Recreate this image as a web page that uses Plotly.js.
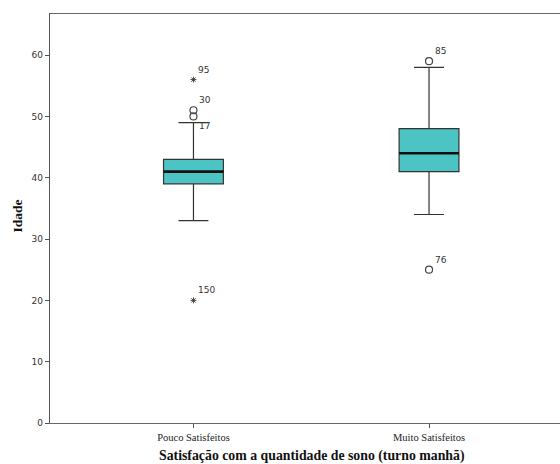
<!DOCTYPE html>
<html>
<head>
<meta charset="utf-8">
<script src="https://cdn.plot.ly/plotly-3.0.1.min.js"></script>
<style>
  html, body { margin: 0; padding: 0; background: #fff; overflow: hidden; }
  #chart { width: 560px; height: 464px; }
</style>
</head>
<body>
<div id="chart"></div>
<script>
// Age (Idade) by satisfaction with amount of sleep, morning shift
const categories = ['Pouco Satisfeitos', 'Muito Satisfeitos'];
const q1 = [39, 41];
const median = [41, 44];
const q3 = [43, 48];
const lowerWhisker = [33, 34];
const upperWhisker = [49, 58];

// Outliers (circles) and extreme values (stars), with case ids
const outlierGroup = [0, 0, 1, 1];
const outlierValue = [51, 50, 59, 25];
const outlierCase = ['30', '17', '85', '76'];

const extremeGroup = [0, 0];
const extremeValue = [56, 20];
const extremeCase = ['95', '150'];

const yTicks = [0, 10, 20, 30, 40, 50, 60];

const boxWidth = 0.254;
const boxColor = '#4cc4c4';
const lineColor = '#333333';

const xs = categories.map((_, i) => i);

const traces = [];

traces.push({
  type: 'box',
  x: xs,
  q1: q1,
  median: median,
  q3: q3,
  lowerfence: lowerWhisker,
  upperfence: upperWhisker,
  width: boxWidth,
  whiskerwidth: 0.5,
  fillcolor: boxColor,
  line: { color: lineColor, width: 1.2 },
  boxpoints: false,
  hoverinfo: 'skip',
  showlegend: false
});

// heavy median bars
median.forEach((m, i) => {
  traces.push({
    type: 'scatter',
    mode: 'lines',
    x: [i - boxWidth / 2, i + boxWidth / 2],
    y: [m, m],
    line: { color: '#111', width: 2.6 },
    hoverinfo: 'skip',
    showlegend: false
  });
});

traces.push({
  type: 'scatter',
  mode: 'markers',
  x: outlierGroup,
  y: outlierValue,
  marker: { symbol: 'circle-open', size: 7, color: '#444', line: { width: 1.2, color: '#444' } },
  hoverinfo: 'skip',
  showlegend: false
});

traces.push({
  type: 'scatter',
  mode: 'markers',
  x: extremeGroup,
  y: extremeValue,
  marker: { symbol: 'asterisk-open', size: 5, color: '#333', line: { width: 0.9, color: '#333' } },
  hoverinfo: 'skip',
  showlegend: false
});

// case labels beside flagged points
const labelFont = { family: 'DejaVu Sans, sans-serif', size: 9, color: '#333' };
const annotations = [];
outlierGroup.forEach((g, i) => {
  const below = outlierCase[i] === '17';
  annotations.push({
    x: g, y: outlierValue[i], xref: 'x', yref: 'y',
    text: outlierCase[i], showarrow: false, font: labelFont,
    xanchor: 'left', yanchor: 'middle',
    xshift: 4, yshift: below ? -10 : 10
  });
});
extremeGroup.forEach((g, i) => {
  annotations.push({
    x: g, y: extremeValue[i], xref: 'x', yref: 'y',
    text: extremeCase[i], showarrow: false, font: labelFont,
    xanchor: 'left', yanchor: 'middle',
    xshift: 3, yshift: 10
  });
});

// axis titles
annotations.push({
  x: 0.512, y: 0, xref: 'paper', yref: 'paper',
  yanchor: 'top', xanchor: 'center', yshift: -23,
  text: '<b>Satisfação com a quantidade de sono (turno manhã)</b>',
  showarrow: false,
  font: { family: 'Liberation Serif, serif', size: 13.8, color: '#111' }
});
annotations.push({
  x: 0, y: 0.505, xref: 'paper', yref: 'paper',
  xanchor: 'center', yanchor: 'middle', xshift: -33,
  text: '<b>Idade</b>', textangle: -90,
  showarrow: false,
  font: { family: 'Liberation Serif, serif', size: 13.5, color: '#111' }
});

const layout = {
  width: 560,
  height: 464,
  margin: { l: 50, r: 0, t: 14, b: 41 },
  paper_bgcolor: '#fff',
  plot_bgcolor: '#fff',
  showlegend: false,
  xaxis: {
    range: [-0.609, 1.556],
    tickvals: xs,
    ticktext: categories,
    tickfont: { family: 'Liberation Serif, serif', size: 10.5, color: '#222' },
    ticks: 'outside',
    ticklen: 4,
    tickcolor: '#555',
    showline: true,
    linecolor: '#666',
    linewidth: 1.2,
    mirror: true,
    showgrid: false,
    zeroline: false,
    fixedrange: true
  },
  yaxis: {
    range: [0, 66.7],
    tickvals: yTicks,
    ticktext: yTicks.map(String),
    tickfont: { family: 'DejaVu Sans, sans-serif', size: 9, color: '#333' },
    ticks: 'outside',
    ticklen: 4,
    tickcolor: '#555',
    showline: true,
    linecolor: '#555',
    linewidth: 1.2,
    showgrid: false,
    zeroline: false,
    fixedrange: true
  },
  annotations: annotations
};

Plotly.newPlot('chart', traces, layout, { staticPlot: true, displayModeBar: false });
</script>
</body>
</html>
